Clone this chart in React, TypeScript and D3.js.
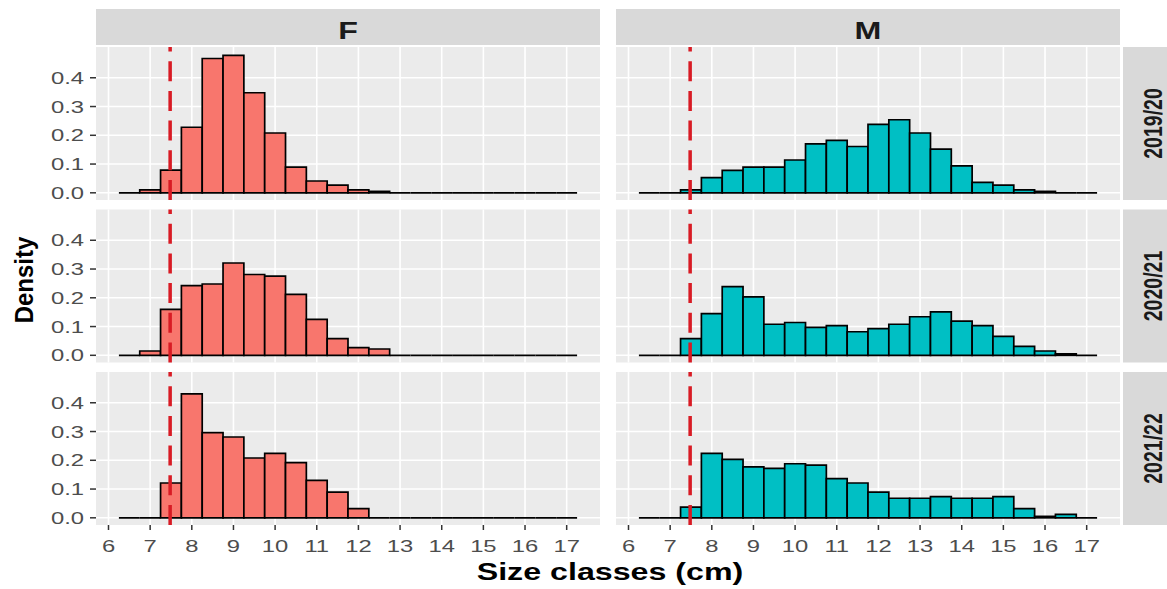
import React from "react";
import * as d3 from "d3";

// ---- data ----
const sexes = ["F", "M"];
const seasons = ["2019/20", "2020/21", "2021/22"];
const binStart = 6.25;
const binWidth = 0.5;
const xBreaks = [6, 7, 8, 9, 10, 11, 12, 13, 14, 15, 16, 17];
const yBreaks = [0, 0.1, 0.2, 0.3, 0.4];
const cutoff = 7.48;

const F_2019 = [0, 0.010, 0.079, 0.228, 0.467, 0.478, 0.348, 0.208, 0.089, 0.041, 0.027, 0.010, 0.005, 0, 0, 0, 0, 0, 0, 0, 0, 0];
const M_2019 = [0, 0, 0.010, 0.053, 0.078, 0.089, 0.089, 0.114, 0.170, 0.182, 0.161, 0.238, 0.254, 0.208, 0.152, 0.094, 0.036, 0.027, 0.010, 0.005, 0, 0];
const F_2020 = [0, 0.015, 0.160, 0.242, 0.248, 0.321, 0.281, 0.275, 0.212, 0.125, 0.058, 0.027, 0.022, 0, 0, 0, 0, 0, 0, 0, 0, 0];
const M_2020 = [0, 0, 0.058, 0.145, 0.239, 0.203, 0.108, 0.114, 0.097, 0.103, 0.082, 0.093, 0.108, 0.134, 0.151, 0.119, 0.103, 0.066, 0.031, 0.015, 0.005, 0];
const F_2021 = [0, 0, 0.121, 0.431, 0.296, 0.281, 0.208, 0.224, 0.192, 0.130, 0.089, 0.032, 0, 0, 0, 0, 0, 0, 0, 0, 0, 0];
const M_2021 = [0, 0, 0.037, 0.224, 0.203, 0.177, 0.172, 0.188, 0.183, 0.136, 0.121, 0.089, 0.068, 0.068, 0.074, 0.068, 0.068, 0.074, 0.032, 0.005, 0.012, 0];

const panelValues: Record<string, number[]> = {
  "F|2019/20": F_2019,
  "M|2019/20": M_2019,
  "F|2020/21": F_2020,
  "M|2020/21": M_2020,
  "F|2021/22": F_2021,
  "M|2021/22": M_2021,
};

const fills: Record<string, string> = { F: "#F8766D", M: "#00BFC4" };

// ---- layout ----
const W = 1167;
const H = 589;
const colX = [96, 616];
const panelW = 504;
const rowY = [47, 209.5, 372];
const panelH = 153;
const FONT = "'Liberation Sans', Arial, Helvetica, sans-serif";
const SX = 1.4;

const x = d3.scaleLinear().domain([5.7, 17.8]).range([0, panelW]);
const y = d3.scaleLinear().domain([-0.025, 0.507]).range([panelH, 0]);

function T(props: any) {
  const { x: tx, y: ty, s = SX, rot, children, ...rest } = props;
  const tr = `translate(${tx},${ty}) scale(${s},1)` + (rot ? ` rotate(${rot})` : "");
  return (
    <text transform={tr} fontFamily={FONT} {...rest}>
      {children}
    </text>
  );
}

function Panel({ sex, season, px, py, showX }: any) {
  const vals = panelValues[`${sex}|${season}`];
  const cx = x(cutoff);
  return (
    <g transform={`translate(${px},${py})`}>
      <rect x={0} y={0} width={panelW} height={panelH} fill="#EBEBEB" />
      {xBreaks.map((b) => (
        <line key={"gx" + b} x1={x(b)} x2={x(b)} y1={0} y2={panelH} stroke="#fff" strokeWidth={1.6} />
      ))}
      {yBreaks.map((b) => (
        <line key={"gy" + b} x1={0} x2={panelW} y1={y(b)} y2={y(b)} stroke="#fff" strokeWidth={1.6} />
      ))}
      {vals.map((v, i) => {
        const x0 = x(binStart + i * binWidth);
        const x1 = x(binStart + (i + 1) * binWidth);
        const y0 = y(0);
        const y1 = y(v);
        return (
          <path
            key={"b" + i}
            d={`M${x0},${y0}V${y1}H${x1}V${y0}Z`}
            fill={fills[sex]}
            stroke="#000"
            strokeWidth={1.7}
            strokeLinejoin="miter"
          />
        );
      })}
      <line x1={cx} x2={cx} y1={panelH} y2={0} stroke="#D81B24" strokeWidth={3.5} strokeDasharray="20 9.7" />
      {px === colX[0] &&
        yBreaks.map((b) => (
          <g key={"yt" + b}>
            <line x1={-6} x2={0} y1={y(b)} y2={y(b)} stroke="#333" strokeWidth={1.5} />
            <T x={-12} y={y(b) + 6} fontSize={17} fill="#4D4D4D" textAnchor="end">
              {b.toFixed(1)}
            </T>
          </g>
        ))}
      {showX &&
        xBreaks.map((b) => (
          <g key={"xt" + b}>
            <line x1={x(b)} x2={x(b)} y1={panelH} y2={panelH + 5} stroke="#333" strokeWidth={1.5} />
            <T x={x(b)} y={panelH + 27} fontSize={17} fill="#4D4D4D" textAnchor="middle">
              {String(b)}
            </T>
          </g>
        ))}
    </g>
  );
}

export default function App() {
  return (
    <svg
      width={W}
      height={H}
      style={{ position: "fixed", left: 0, top: 0, display: "block", background: "#fff" }}
    >
      <rect x={0} y={0} width={W} height={H} fill="#fff" />
      {sexes.map((s, ci) => (
        <g key={"strip" + s}>
          <rect x={colX[ci]} y={9} width={panelW} height={36} fill="#D9D9D9" />
          <T x={colX[ci] + panelW / 2} y={38.5} fontSize={23} fontWeight="bold" fill="#1A1A1A" textAnchor="middle">
            {s}
          </T>
        </g>
      ))}
      {seasons.map((se, ri) => (
        <g key={"rstrip" + se}>
          <rect x={1123} y={rowY[ri]} width={60} height={panelH} fill="#D9D9D9" />
          <T x={1162} y={rowY[ri] + panelH / 2} s={1.3} rot={-90} fontSize={19.5} fontWeight="bold" fill="#1A1A1A" textAnchor="middle">
            {se}
          </T>
        </g>
      ))}
      {seasons.map((se, ri) =>
        sexes.map((s, ci) => (
          <Panel key={s + se} sex={s} season={se} px={colX[ci]} py={rowY[ri]} showX={ri === seasons.length - 1} />
        ))
      )}
      <T x={610} y={580} fontSize={23} fontWeight="bold" fill="#000" textAnchor="middle">
        Size classes (cm)
      </T>
      <T x={33} y={280} s={1.1} rot={-90} fontSize={24} fontWeight="bold" fill="#000" textAnchor="middle">
        Density
      </T>
    </svg>
  );
}
